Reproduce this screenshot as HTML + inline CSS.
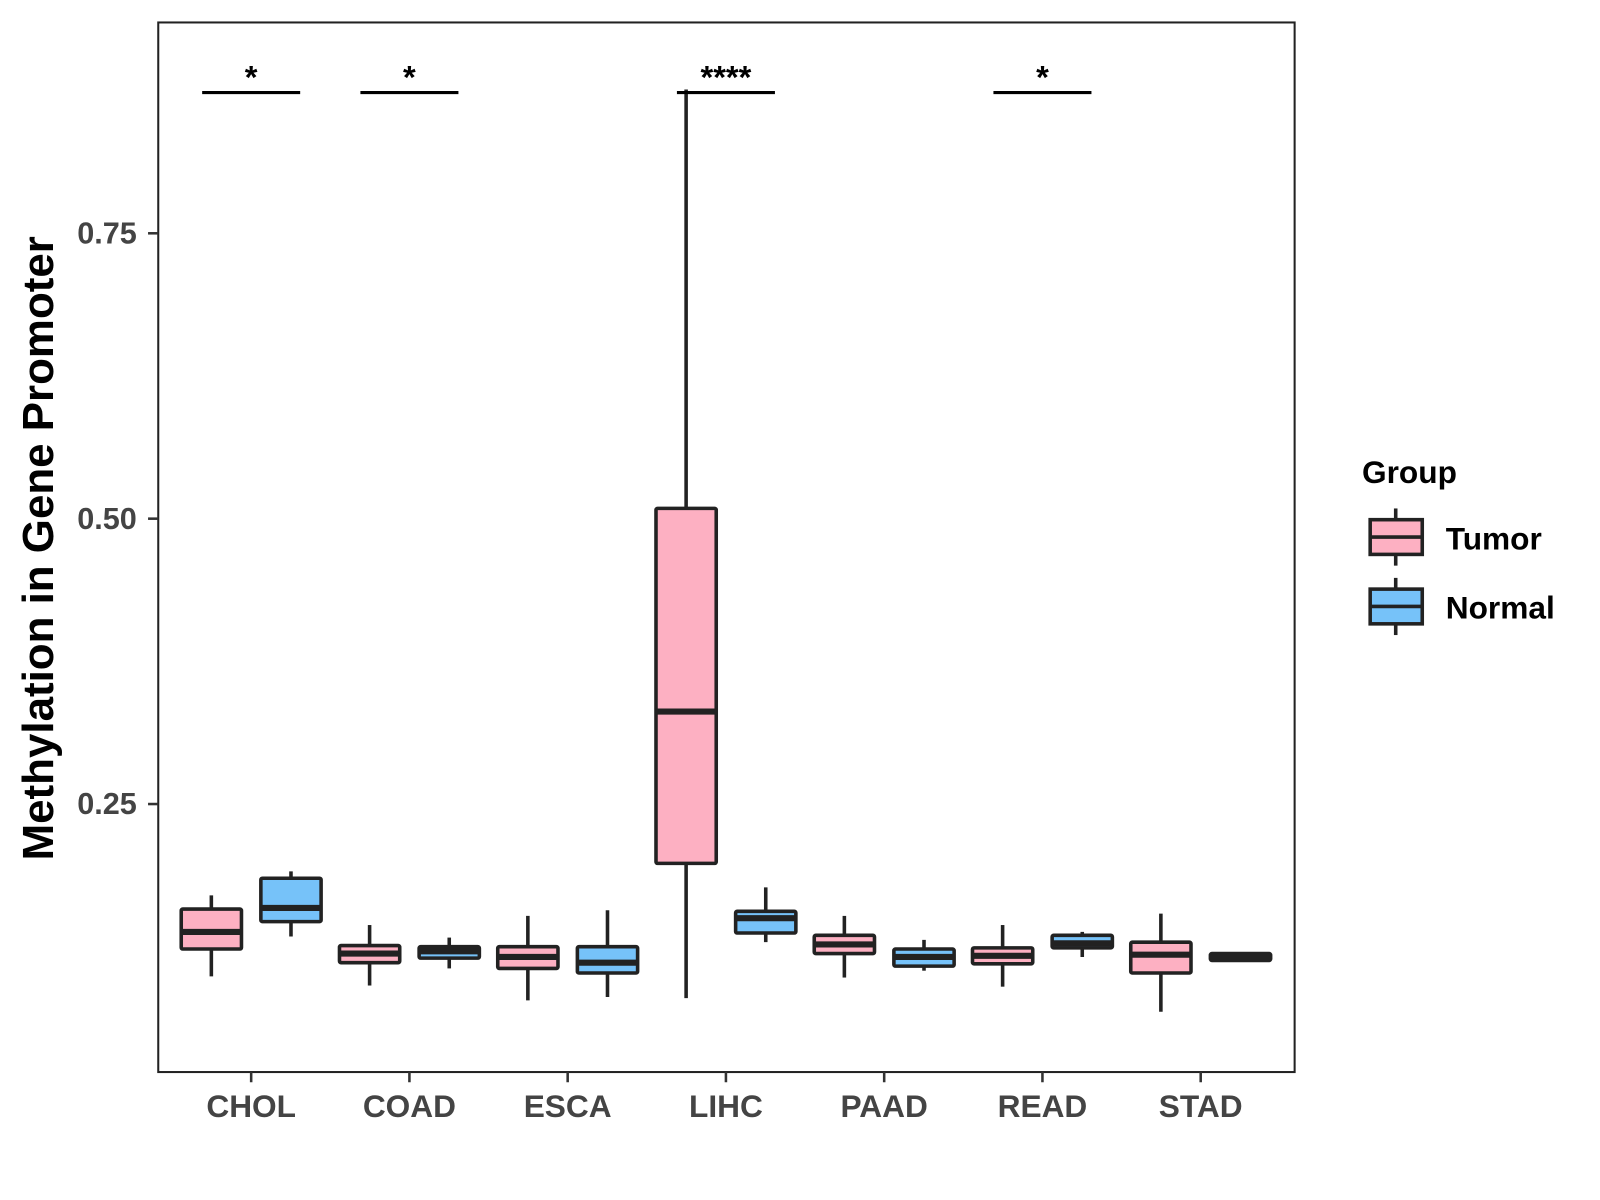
<!DOCTYPE html>
<html><head><meta charset="utf-8"><style>
html,body{margin:0;padding:0;background:#fff;}
svg{display:block;font-family:"Liberation Sans",Arial,sans-serif;}
</style></head><body>
<svg id="chart" width="1600" height="1200" viewBox="0 0 1600 1200">
<rect x="0" y="0" width="1600" height="1200" fill="#fff"/>
<g transform="scale(1.021)">
<g id="marks"></g>
<rect x="155" y="22" width="1113" height="1028" fill="none" stroke="#222" stroke-width="2"/>
<g id="axes"></g>
<text transform="translate(52,537) rotate(-90)" text-anchor="middle" font-size="43" font-weight="bold" fill="#000">Methylation in Gene Promoter</text>
<g>
<text x="1334" y="473" font-size="31" font-weight="bold" fill="#000">Group</text>
<g>
<line x1="1367" y1="498" x2="1367" y2="554" stroke="#222" stroke-width="3.5"/>
<rect x="1342" y="509" width="51" height="34" fill="#FDB0C2" stroke="#222" stroke-width="3.5"/>
<line x1="1342" y1="526" x2="1393" y2="526" stroke="#222" stroke-width="3.5"/>
<text x="1416" y="538" font-size="31" font-weight="bold" fill="#000">Tumor</text>
</g>
<g>
<line x1="1367" y1="566" x2="1367" y2="622" stroke="#222" stroke-width="3.5"/>
<rect x="1342" y="577" width="51" height="34" fill="#76C2F9" stroke="#222" stroke-width="3.5"/>
<line x1="1342" y1="594" x2="1393" y2="594" stroke="#222" stroke-width="3.5"/>
<text x="1416" y="606" font-size="31" font-weight="bold" fill="#000">Normal</text>
</g>
</g>
</g>
</svg>
<script>
const categories = ["CHOL","COAD","ESCA","LIHC","PAAD","READ","STAD"];
// [whiskerLow, q1, median, q3, whiskerHigh]
const tumorStats = [
 [0.099,0.123,0.138,0.158,0.170],
 [0.091,0.111,0.119,0.126,0.144],
 [0.078,0.106,0.116,0.125,0.152],
 [0.080,0.198,0.331,0.509,0.876],
 [0.098,0.119,0.127,0.135,0.152],
 [0.090,0.110,0.117,0.124,0.144],
 [0.068,0.102,0.118,0.129,0.154]
];
const normalStats = [
 [0.134,0.147,0.159,0.185,0.191],
 [0.106,0.115,0.121,0.125,0.133],
 [0.081,0.102,0.111,0.125,0.157],
 [0.129,0.137,0.150,0.156,0.177],
 [0.104,0.108,0.116,0.123,0.131],
 [0.116,0.124,0.128,0.135,0.138],
 [0.113,0.113,0.116,0.119,0.119]
];
const yTicks = [0.25,0.50,0.75];
const yTickLabels = ["0.25","0.50","0.75"];
const sigLabels = ["*","*","","****","","*",""];
const sigLevel = 0.876;

const NS="http://www.w3.org/2000/svg";
function yPx(v){ return 508 - (v-0.5)*1118; }
function xPx(i){ return 246 + i*155; }
function mk(tag, attrs, parent){
  const e=document.createElementNS(NS,tag);
  for(const k in attrs) e.setAttribute(k,attrs[k]);
  parent.appendChild(e); return e;
}
const marks=document.getElementById('marks');
const axes=document.getElementById('axes');
function drawBox(cx, s, fill, name){
  const g=mk('g',{},marks);
  
  
  mk('line',{x1:cx,x2:cx,y1:yPx(s[4]),y2:yPx(s[0]),stroke:'#222','stroke-width':3.5},g);
  const hw=29.5;
  mk('rect',{x:cx-hw,y:yPx(s[3]),width:hw*2,height:Math.max(yPx(s[1])-yPx(s[3]),0.5),fill:fill,stroke:'#222','stroke-width':3.5,rx:1.5},g);
  mk('line',{x1:cx-hw,x2:cx+hw,y1:yPx(s[2]),y2:yPx(s[2]),stroke:'#222','stroke-width':6},g);
}
categories.forEach((c,i)=>{
  drawBox(xPx(i)-39, tumorStats[i], '#FDB0C2', 'box-tumor-'+c.toLowerCase());
  drawBox(xPx(i)+39, normalStats[i], '#76C2F9', 'box-normal-'+c.toLowerCase());
  if(sigLabels[i]){
    const g=mk('g',{},marks);
    
    
    mk('line',{x1:xPx(i)-48,x2:xPx(i)+48,y1:yPx(sigLevel)+3,y2:yPx(sigLevel)+3,stroke:'#000','stroke-width':3},g);
    const t=mk('text',{x:xPx(i),y:yPx(sigLevel)-1,'text-anchor':'middle','font-size':32,'font-weight':'bold',fill:'#000'},g);
    t.textContent=sigLabels[i];
  }
  mk('line',{x1:xPx(i),x2:xPx(i),y1:1050,y2:1060,stroke:'#333','stroke-width':2.5},axes);
  const t=mk('text',{x:xPx(i),y:1094,'text-anchor':'middle','font-size':31,'font-weight':'bold',fill:'#444'},axes);
  
  
  t.textContent=c;
});
yTicks.forEach((v,i)=>{
  mk('line',{x1:145,x2:155,y1:yPx(v),y2:yPx(v),stroke:'#333','stroke-width':2.5},axes);
  const t=mk('text',{x:134,y:yPx(v)+10,'text-anchor':'end','font-size':30,'font-weight':'bold',fill:'#444'},axes);
  
  
  t.textContent=yTickLabels[i];
});
</script>
</body></html>
